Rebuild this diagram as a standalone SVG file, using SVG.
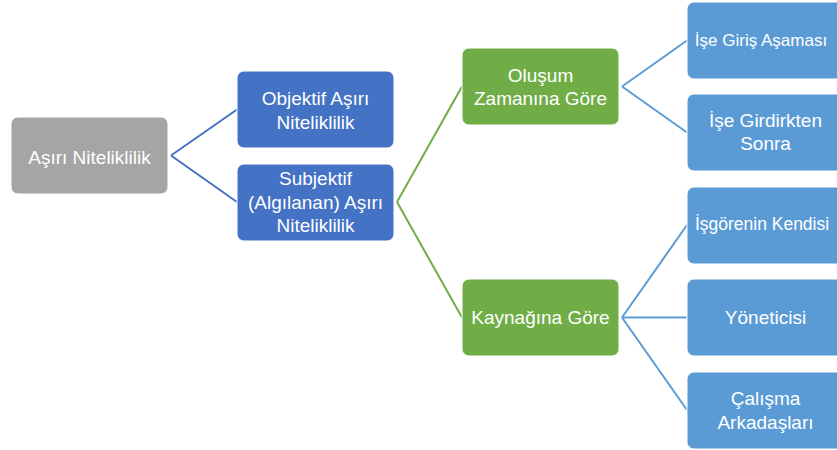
<svg xmlns="http://www.w3.org/2000/svg" width="837" height="450" viewBox="0 0 837 450">
<style>
.n rect{stroke:#fff;stroke-width:1}
.n text{font-family:"Liberation Sans",Arial,sans-serif;font-size:19px;fill:#fff;text-anchor:middle}
.g rect{fill:#A5A5A5}
.b rect{fill:#4472C4}
.gr rect{fill:#70AD47}
.lb rect{fill:#5B9BD5}
.c path{fill:none;stroke-width:2}
</style>
<rect width="837" height="450" fill="#fff"/>
<g id="connectors" class="c">
<path d="M171,155.5 L237,109.5 M171,155.5 L237,202" stroke="#4472C4"/>
<path d="M397,202 L462,86.5 M397,202 L462,317.5" stroke="#70AD47"/>
<path d="M622,86.5 L687,40.5 M622,86.5 L687,132.5 M622,317.5 L687,225 M622,317.5 L687,317.5 M622,317.5 L687,410" stroke="#5B9BD5"/>
</g>
<g id="root" class="n g"><rect x="11" y="117" width="157" height="77" rx="7"/><text x="89.5" y="164">Aşırı Niteliklilik</text></g>
<g id="objektif" class="n b"><rect x="237" y="71" width="157" height="77" rx="7"/><text x="315.5" y="105">Objektif Aşırı</text><text x="315.5" y="129">Niteliklilik</text></g>
<g id="subjektif" class="n b"><rect x="237" y="164" width="157" height="77" rx="7"/><text x="315.5" y="185">Subjektif</text><text x="315.5" y="209">(Algılanan) Aşırı</text><text x="315.5" y="232">Niteliklilik</text></g>
<g id="olusum" class="n gr"><rect x="462" y="48" width="157" height="77" rx="7"/><text x="540.5" y="82">Oluşum</text><text x="540.5" y="105">Zamanına Göre</text></g>
<g id="kaynagina" class="n gr"><rect x="462" y="279" width="157" height="77" rx="7"/><text x="540.5" y="324">Kaynağına Göre</text></g>
<g id="ise-giris" class="n lb"><rect x="687" y="2" width="157" height="77" rx="7"/><text x="761" y="46" style="font-size:17px">İşe Giriş Aşaması</text></g>
<g id="ise-girdirkten" class="n lb"><rect x="687" y="94" width="157" height="77" rx="7"/><text x="765.5" y="127">İşe Girdirkten</text><text x="765.5" y="150">Sonra</text></g>
<g id="isgorenin" class="n lb"><rect x="687" y="187" width="157" height="77" rx="7"/><text x="762" y="230" style="font-size:17.5px">İşgörenin Kendisi</text></g>
<g id="yonetici" class="n lb"><rect x="687" y="279" width="157" height="77" rx="7"/><text x="765.5" y="324">Yöneticisi</text></g>
<g id="calisma" class="n lb"><rect x="687" y="372" width="157" height="77" rx="7"/><text x="765.5" y="405">Çalışma</text><text x="765.5" y="429">Arkadaşları</text></g>
</svg>
